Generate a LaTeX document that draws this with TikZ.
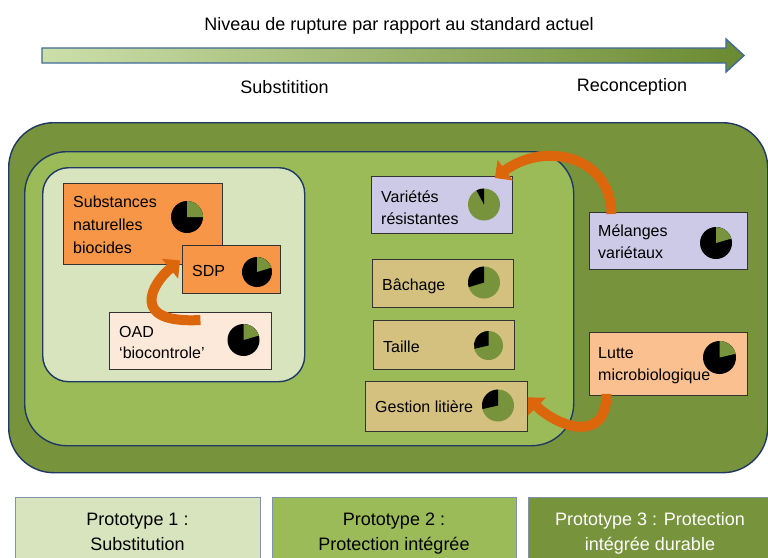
\documentclass[tikz,border=0pt]{standalone}
\usepackage{fontspec}
\setmainfont{Liberation Sans}
\usetikzlibrary{arrows.meta,calc}
\definecolor{outerg}{HTML}{77933C}
\definecolor{midg}{HTML}{9BBB59}
\definecolor{inng}{HTML}{D7E4BD}
\definecolor{navy}{HTML}{1F3864}
\definecolor{orangeb}{HTML}{F79646}
\definecolor{peach}{HTML}{FDE9D9}
\definecolor{lav}{HTML}{CCCAE6}
\definecolor{tan}{HTML}{D5C17F}
\definecolor{lutte}{HTML}{FAC090}
\definecolor{pgreen}{HTML}{77933C}
\definecolor{carr}{HTML}{DC660C}
\definecolor{arrL}{HTML}{CCDFAA}
\definecolor{arrR}{HTML}{6A8A31}
\definecolor{arrB}{HTML}{3F6A9A}
\definecolor{protoB}{HTML}{7F92AE}
\newcommand\mylines[1]{\begin{tabular}[t]{@{}l@{}}#1\end{tabular}}
\newcommand\mycenter[1]{\begin{tabular}[t]{@{}c@{}}#1\end{tabular}}
\newcommand\mypie[6]{%
  \fill[#3] (#1) circle[radius=#2];
  \fill[#4] (#1) -- ++(-#5:#2) arc[start angle=-#5, end angle=-#6, radius=#2] -- cycle;}
\begin{document}
\begin{tikzpicture}[x=1pt,y=-1pt,
  cont/.style={draw=navy, line width=1.4pt, anchor=north west, inner sep=0pt},
  box/.style={draw=black!80, line width=0.9pt, anchor=north west, inner sep=0pt},
  proto/.style={draw=protoB, line width=1pt, anchor=north west, inner sep=0pt},
  lbl/.style={anchor=base west, inner sep=0pt, font=\fontsize{16}{22}\selectfont},
  big/.style={anchor=base, inner sep=0pt, font=\fontsize{18}{25}\selectfont},
  carrow/.style={draw=carr, line width=10pt, -{Triangle[width=25pt,length=13pt]}}]
\useasboundingbox (0,0) rectangle (768,557);
% top arrow
\node[big] (title) at (399,30) {Niveau de rupture par rapport au standard actuel};
\path[draw=arrB, line width=1.4pt, left color=arrL, right color=arrR]
  (42,48) -- (726,48) -- (726,39) -- (744,55.5) -- (726,72) -- (726,63) -- (42,63) -- cycle;
\node[big] (subst) at (284.5,93) {Substitition};
\node[big] (recon) at (632,91) {Reconception};
% containers
\node[cont, fill=outerg, rounded corners=45pt, minimum width=759pt, minimum height=350pt] (outer) at (8,122) {};
\node[cont, fill=midg, rounded corners=42pt, minimum width=549pt, minimum height=294pt] (mid) at (24,151) {};
\node[cont, fill=inng, rounded corners=26pt, minimum width=262pt, minimum height=214pt] (inner) at (42,167) {};
% boxes
\node[box, fill=orangeb, minimum width=159pt, minimum height=81pt] (sub) at (63,183) {};
\node[box, fill=orangeb, minimum width=98pt, minimum height=48pt] (sdp) at (182,245) {};
\node[box, fill=peach, minimum width=162pt, minimum height=57pt] (oad) at (109,312) {};
\node[box, fill=lav, minimum width=141pt, minimum height=57pt] (var) at (371,176) {};
\node[box, fill=tan, minimum width=141pt, minimum height=48pt] (bac) at (372,259) {};
\node[box, fill=tan, minimum width=141pt, minimum height=49pt] (tai) at (373,320) {};
\node[box, fill=tan, minimum width=162pt, minimum height=50pt] (ges) at (365,381) {};
\node[box, fill=lav, minimum width=158pt, minimum height=57pt] (mel) at (589,212) {};
\node[box, fill=lutte, minimum width=158pt, minimum height=63pt] (lut) at (589,332) {};
% pies
\mypie{187,217}{16}{black}{pgreen}{0}{90}
\mypie{257,272}{15}{black}{pgreen}{17}{90}
\mypie{243.5,340}{16}{black}{pgreen}{16}{90}
\mypie{484,204.5}{16}{pgreen}{black}{90}{118}
\mypie{484,282.5}{16}{pgreen}{black}{90}{197}
\mypie{488.5,345.5}{14.5}{pgreen}{black}{90}{193}
\mypie{498,405.5}{16}{pgreen}{black}{90}{193}
\mypie{716,243}{16}{black}{pgreen}{16}{90}
\mypie{719.5,357.5}{16.5}{black}{pgreen}{13}{90}
% labels
\node[lbl, font=\fontsize{16}{23}\selectfont] (subT) at (73,207) {\mylines{Substances\\naturelles\\biocides}};
\node[lbl] (sdpT) at (192,276) {SDP};
\node[lbl, font=\fontsize{16}{21}\selectfont] (oadT) at (119,337) {\mylines{OAD\\‘biocontrole’}};
\node[lbl] (varT) at (381,202) {\mylines{Variétés\\résistantes}};
\node[lbl] (bacT) at (382,290) {Bâchage};
\node[lbl] (taiT) at (383,352) {Taille};
\node[lbl] (gesT) at (375,412) {Gestion litière};
\node[lbl] (melT) at (598,236) {\mylines{Mélanges\\variétaux}};
\node[lbl] (lutT) at (598,358) {\mylines{Lutte\\microbiologique}};
% curved arrows
\draw[carrow] ($(oad.north)+(10,8)$) .. controls ($(oad.north)+(-62,12)$) and ($(sdp.west)+(-30,14)$) .. ($(sdp.west)+(-2,-9)$);
\draw[carrow] ($(mel.north)+(-57,2)$) .. controls ($(mel.north)+(-58,-58)$) and ($(var.north east)+(30,-34)$) .. ($(var.north east)+(-18,2)$);
\draw[carrow] ($(lut.south)+(-62,-2)$) .. controls ($(lut.south)+(-62,50)$) and ($(ges.east)+(28,19)$) .. ($(ges.east)+(0,-9)$);
% prototypes
\node[proto, fill=inng, minimum width=245pt, minimum height=80pt] (p1) at (15,497) {};
\node[proto, fill=midg, minimum width=244pt, minimum height=80pt] (p2) at (272,497) {};
\node[proto, fill=outerg, minimum width=250pt, minimum height=80pt] (p3) at (528,497) {};
\node[big] (p1T) at (137.5,525) {\mycenter{Prototype 1 :\\Substitution}};
\node[big] (p2T) at (394,525) {\mycenter{Prototype 2 :\\Protection intégrée}};
\node[big, text=white] (p3T) at (650,525) {\mycenter{Prototype 3 : Protection\\intégrée durable}};
\end{tikzpicture}
\end{document}
